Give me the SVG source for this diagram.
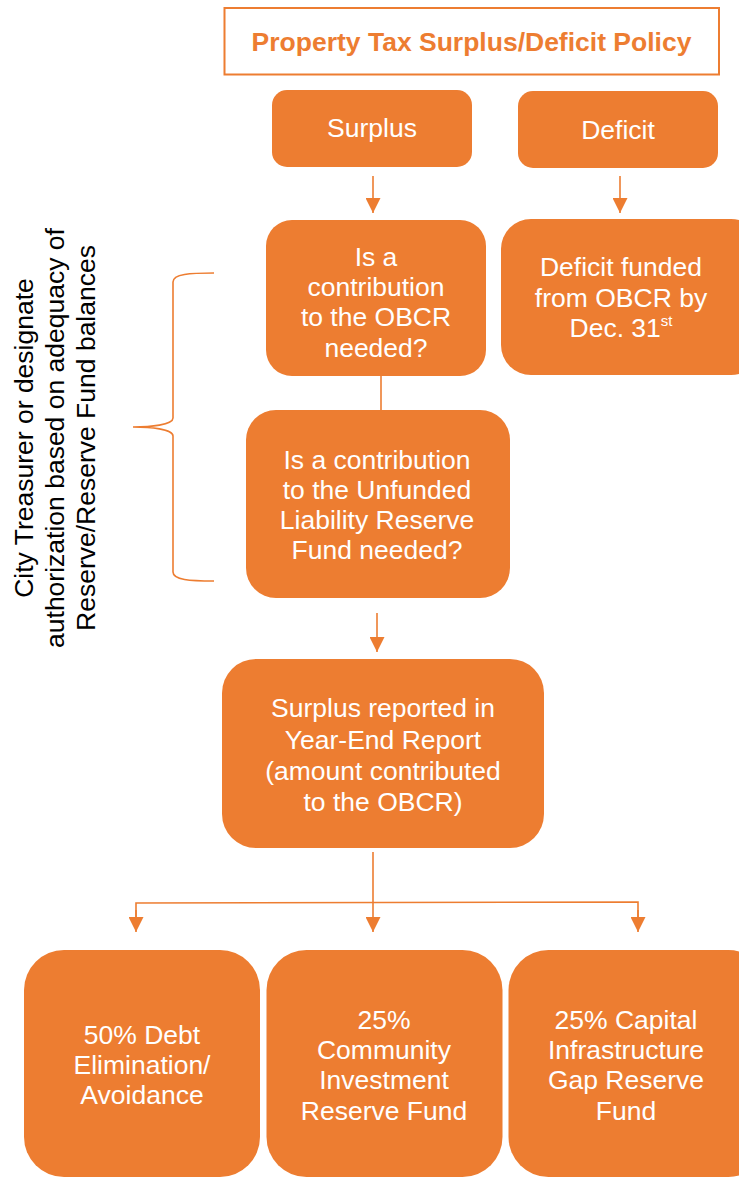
<svg xmlns="http://www.w3.org/2000/svg" width="739" height="1178" viewBox="0 0 739 1178">
<style>
.box{fill:#ED7D31;}
.t{font-family:"Liberation Sans",Arial,sans-serif;font-size:26.5px;fill:#FFFFFF;text-anchor:middle;}
.side{font-family:"Liberation Sans",Arial,sans-serif;font-size:26.5px;fill:#000000;text-anchor:middle;}
.title{font-family:"Liberation Sans",Arial,sans-serif;font-size:26.5px;font-weight:bold;fill:#ED7D31;text-anchor:middle;}
.c{stroke:#ED7D31;stroke-width:1.6;fill:none;}
</style>
<defs>
<marker id="ah" viewBox="0 0 10 10" refX="10" refY="5" markerWidth="15" markerHeight="15" markerUnits="userSpaceOnUse" orient="auto">
<path d="M0,0 L10,5 L0,10 Z" fill="#ED7D31"/>
</marker>
</defs>
<rect width="739" height="1178" fill="#FFFFFF"/>

<g id="title">
<rect x="224.5" y="8" width="494.5" height="66.5" fill="#FFFFFF" stroke="#ED7D31" stroke-width="2"/>
<text class="title" x="471.5" y="51">Property Tax Surplus/Deficit Policy</text>
</g>

<g id="surplus">
<rect class="box" x="272" y="90" width="200" height="77" rx="15"/>
<text class="t" x="372" y="137">Surplus</text>
</g>

<g id="deficit">
<rect class="box" x="518" y="91" width="200" height="77" rx="15"/>
<text class="t" x="618" y="139">Deficit</text>
</g>

<g id="obcr">
<rect class="box" x="266" y="220" width="220" height="156" rx="26"/>
<text class="t" x="376" y="266">Is a</text>
<text class="t" x="376" y="296">contribution</text>
<text class="t" x="376" y="326">to the OBCR</text>
<text class="t" x="376" y="357">needed?</text>
</g>

<g id="deficitFunded">
<rect class="box" x="501" y="219" width="260" height="156" rx="30"/>
<text class="t" x="621" y="276">Deficit funded</text>
<text class="t" x="621" y="307">from OBCR by</text>
<text class="t" x="621" y="337">Dec. 31<tspan font-size="15" dy="-11">st</tspan></text>
</g>

<g id="unfunded">
<rect class="box" x="246" y="410" width="264" height="188" rx="30"/>
<text class="t" x="377" y="469">Is a contribution</text>
<text class="t" x="377" y="499">to the Unfunded</text>
<text class="t" x="377" y="529">Liability Reserve</text>
<text class="t" x="377" y="559">Fund needed?</text>
</g>

<g id="yearEnd">
<rect class="box" x="222" y="659" width="322" height="189" rx="34"/>
<text class="t" x="383" y="717">Surplus reported in</text>
<text class="t" x="383" y="749">Year-End Report</text>
<text class="t" x="383" y="780">(amount contributed</text>
<text class="t" x="383" y="811">to the OBCR)</text>
</g>

<g id="debt">
<rect class="box" x="24" y="950" width="236" height="227" rx="40"/>
<text class="t" x="142" y="1044">50% Debt</text>
<text class="t" x="142" y="1074">Elimination/</text>
<text class="t" x="142" y="1104">Avoidance</text>
</g>

<g id="community">
<rect class="box" x="266.5" y="950" width="236" height="227" rx="40"/>
<text class="t" x="384" y="1029">25%</text>
<text class="t" x="384" y="1059">Community</text>
<text class="t" x="384" y="1089">Investment</text>
<text class="t" x="384" y="1120">Reserve Fund</text>
</g>

<g id="capital">
<rect class="box" x="508.5" y="950" width="260" height="227" rx="40"/>
<text class="t" x="626" y="1029">25% Capital</text>
<text class="t" x="626" y="1059">Infrastructure</text>
<text class="t" x="626" y="1089">Gap Reserve</text>
<text class="t" x="626" y="1120">Fund</text>
</g>

<g id="sideNote">
<path class="c" d="M214,273 C190,273 173,274 173,282 L173,418 C173,425 150,427 133,427 C150,427 173,429 173,436 L173,572 C173,580 190,581 214,581"/>
<text class="side" transform="translate(33,438) rotate(-90)">City Treasurer or designate<tspan x="0" dy="31">authorization based on adequacy of</tspan><tspan x="0" dy="31">Reserve/Reserve Fund balances</tspan></text>
</g>

<g id="connectors">
<line class="c" x1="373" y1="176" x2="373" y2="213" marker-end="url(#ah)"/>
<line class="c" x1="620" y1="176" x2="620" y2="213" marker-end="url(#ah)"/>
<line class="c" x1="381" y1="376" x2="381" y2="410"/>
<line class="c" x1="377" y1="613" x2="377" y2="652" marker-end="url(#ah)"/>
<line class="c" x1="373" y1="852" x2="373" y2="932" marker-end="url(#ah)"/>
<polyline class="c" points="136,925 136,903 638,902 638,925"/>
<line class="c" x1="136" y1="910" x2="136" y2="932" marker-end="url(#ah)"/>
<line class="c" x1="638" y1="910" x2="638" y2="932" marker-end="url(#ah)"/>
</g>
</svg>
